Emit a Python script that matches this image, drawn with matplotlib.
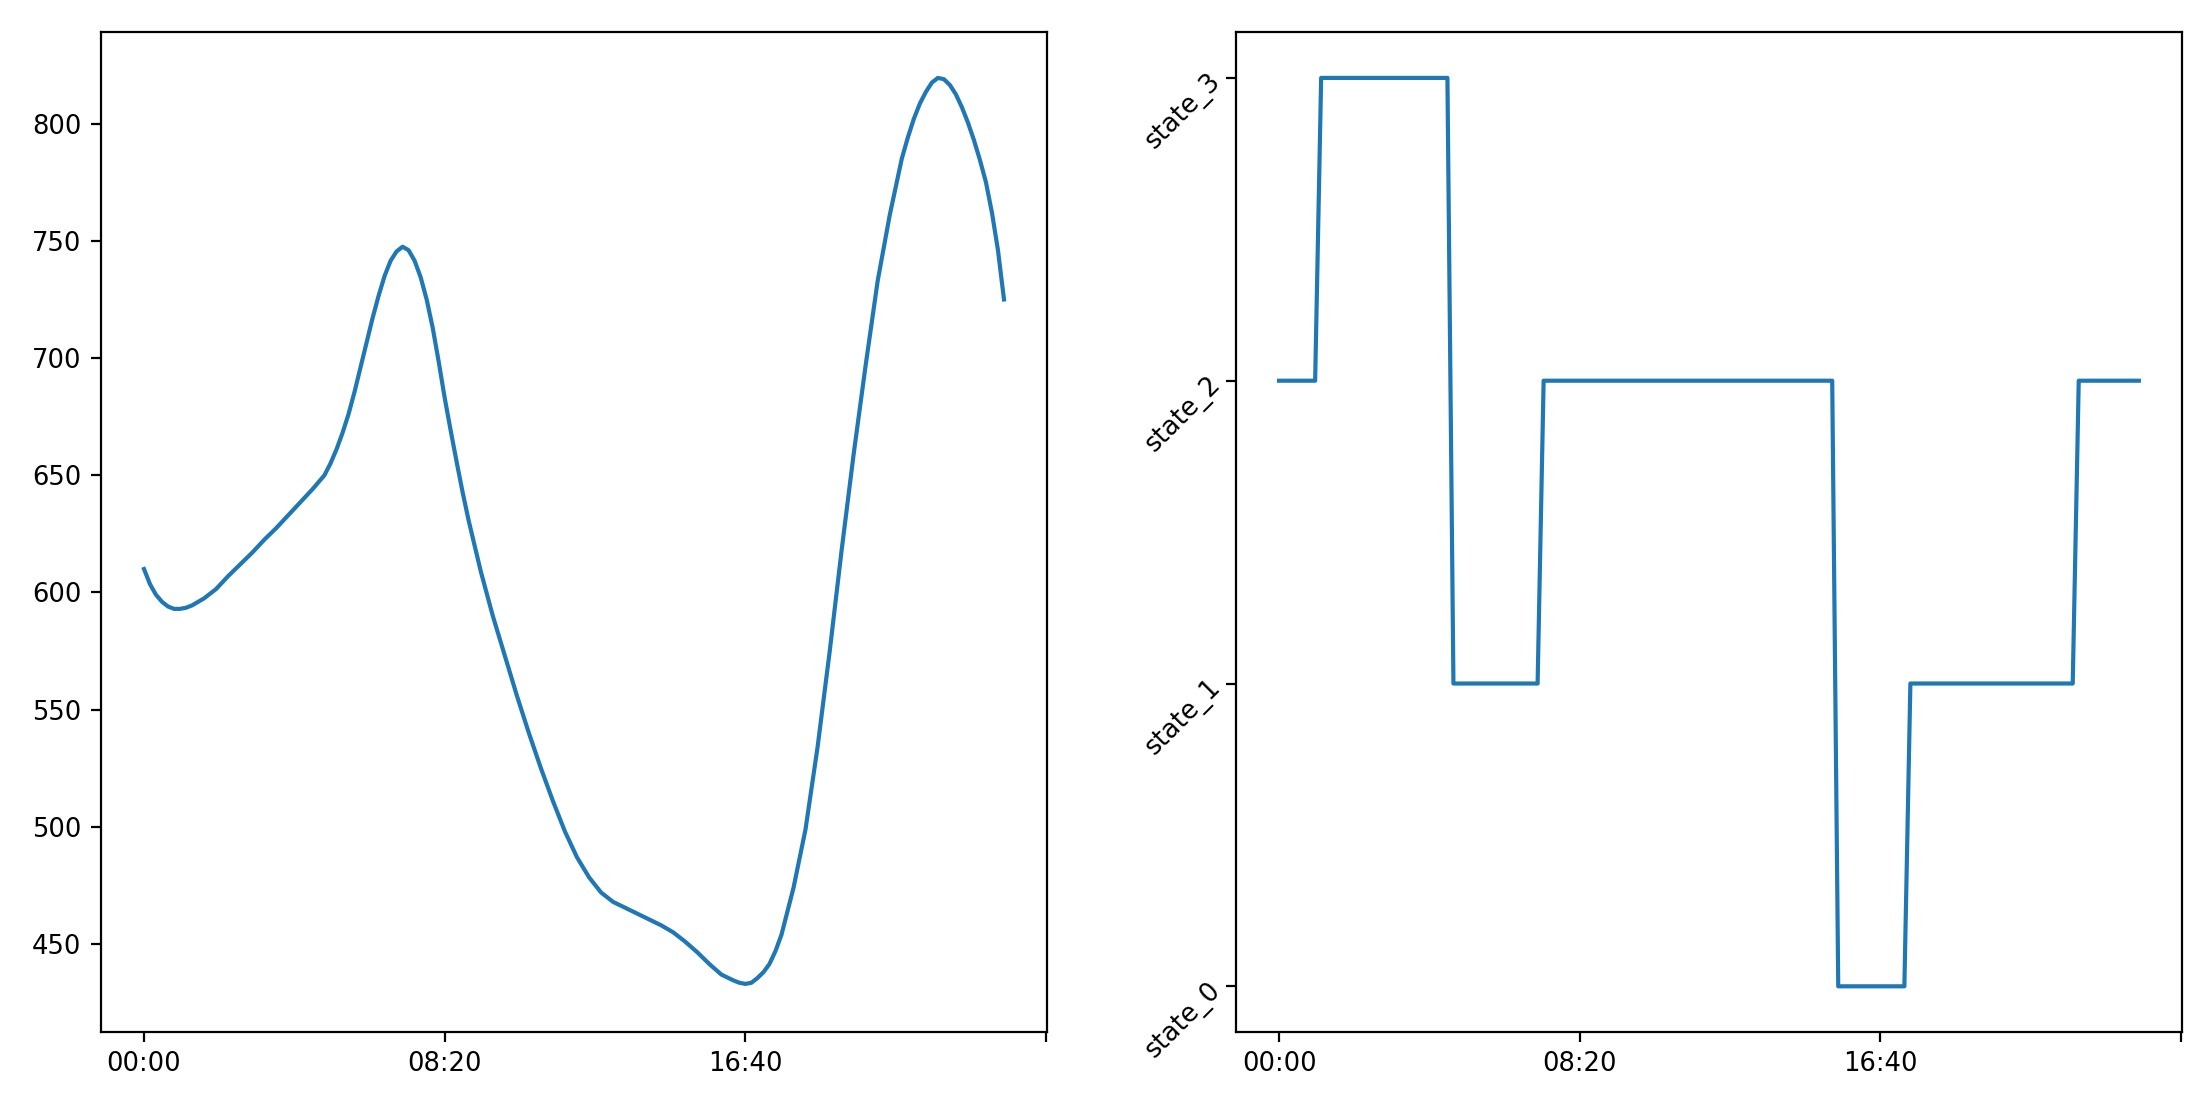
import matplotlib
matplotlib.use("Agg")
import matplotlib.pyplot as plt

# ---- data (minutes since midnight) ----
load_minutes = [0, 10, 20, 30, 40, 50, 60, 70, 80, 100, 120, 140, 160, 180, 200, 220, 240,
                260, 280, 300, 310, 320, 330, 340, 350, 360, 370, 380, 390, 400, 410, 420,
                430, 440, 450, 460, 470, 480, 490, 500, 510, 520, 530, 540, 560, 580,
                600, 620, 640, 660, 680, 700, 720, 740, 760, 780, 800, 820, 840, 860,
                880, 900, 920, 940, 960, 980, 990, 1000, 1010, 1020, 1030, 1040, 1050,
                1060, 1080, 1100, 1120, 1140, 1160, 1180, 1200, 1220, 1240, 1260, 1270,
                1280, 1290, 1300, 1310, 1320, 1330, 1340, 1350, 1360, 1370, 1380, 1390,
                1400, 1410, 1420, 1430]
load_values = [610, 603.5, 599, 596, 594, 593, 593, 593.5, 594.5, 597.5, 601.5, 607, 612,
               617, 622.5, 627.5, 633, 638.5, 644, 650, 655, 661, 668, 676, 685.5, 696,
               706.5, 717, 726.5, 735, 741.5, 745.5, 747.5, 746, 741.5, 734.5, 725, 713,
               698.5, 683, 669, 655.5, 642.5, 630.5, 609, 590, 573, 556, 540, 525, 511,
               498, 487, 478.5, 472, 468, 465.5, 463, 460.5, 458, 455, 451, 446.5, 441.5,
               437, 434.5, 433.5, 433, 433.5, 435.5, 438, 441.5, 447, 454, 474, 499, 534,
               574.5, 618, 659, 697, 733, 761, 785, 794, 802, 808.5, 813.5, 817.5, 819.5,
               819, 816.5, 812.5, 807, 800.5, 793, 784.5, 775, 762, 746, 725]

state_minutes = [0, 60, 70, 280, 290, 430, 440, 920, 930, 1040, 1050, 1320, 1330, 1430]
state_values = [2, 2, 3, 3, 1, 1, 2, 2, 0, 0, 1, 1, 2, 2]
state_labels = ["state_0", "state_1", "state_2", "state_3"]

x_ticks = [0, 500, 1000, 1500]
x_tick_labels = ["00:00", "08:20", "16:40", ""]
y_ticks_left = [450, 500, 550, 600, 650, 700, 750, 800]

plt.rcParams["font.family"] = ["DejaVu Sans"]
plt.rcParams["font.size"] = 9.3

fig = plt.figure(figsize=(11.005, 5.525), dpi=200)
ax1 = fig.add_axes([0.04589, 0.0663, 0.4298, 0.9043])
ax2 = fig.add_axes([0.5616, 0.0663, 0.4297, 0.9043])

line_color = "#1f77b4"

ax1.plot(load_minutes, load_values, color=line_color, linewidth=1.5)
ax1.set_xlim(-71.5, 1501.5)
ax1.set_xticks(x_ticks)
ax1.set_xticklabels(x_tick_labels)
ax1.set_yticks(y_ticks_left)
ax1.set_ylim(412.6, 838.9)

ax2.plot(state_minutes, state_values, color=line_color, linewidth=1.5)
ax2.set_xlim(-71.5, 1501.5)
ax2.set_xticks(x_ticks)
ax2.set_xticklabels(x_tick_labels)
ax2.set_yticks(range(len(state_labels)))
ax2.set_yticklabels(state_labels, rotation=45, ha="right", va="center",
                    rotation_mode="anchor")
ax2.set_ylim(-0.15, 3.15)

fig.savefig("out.png", dpi=200)
